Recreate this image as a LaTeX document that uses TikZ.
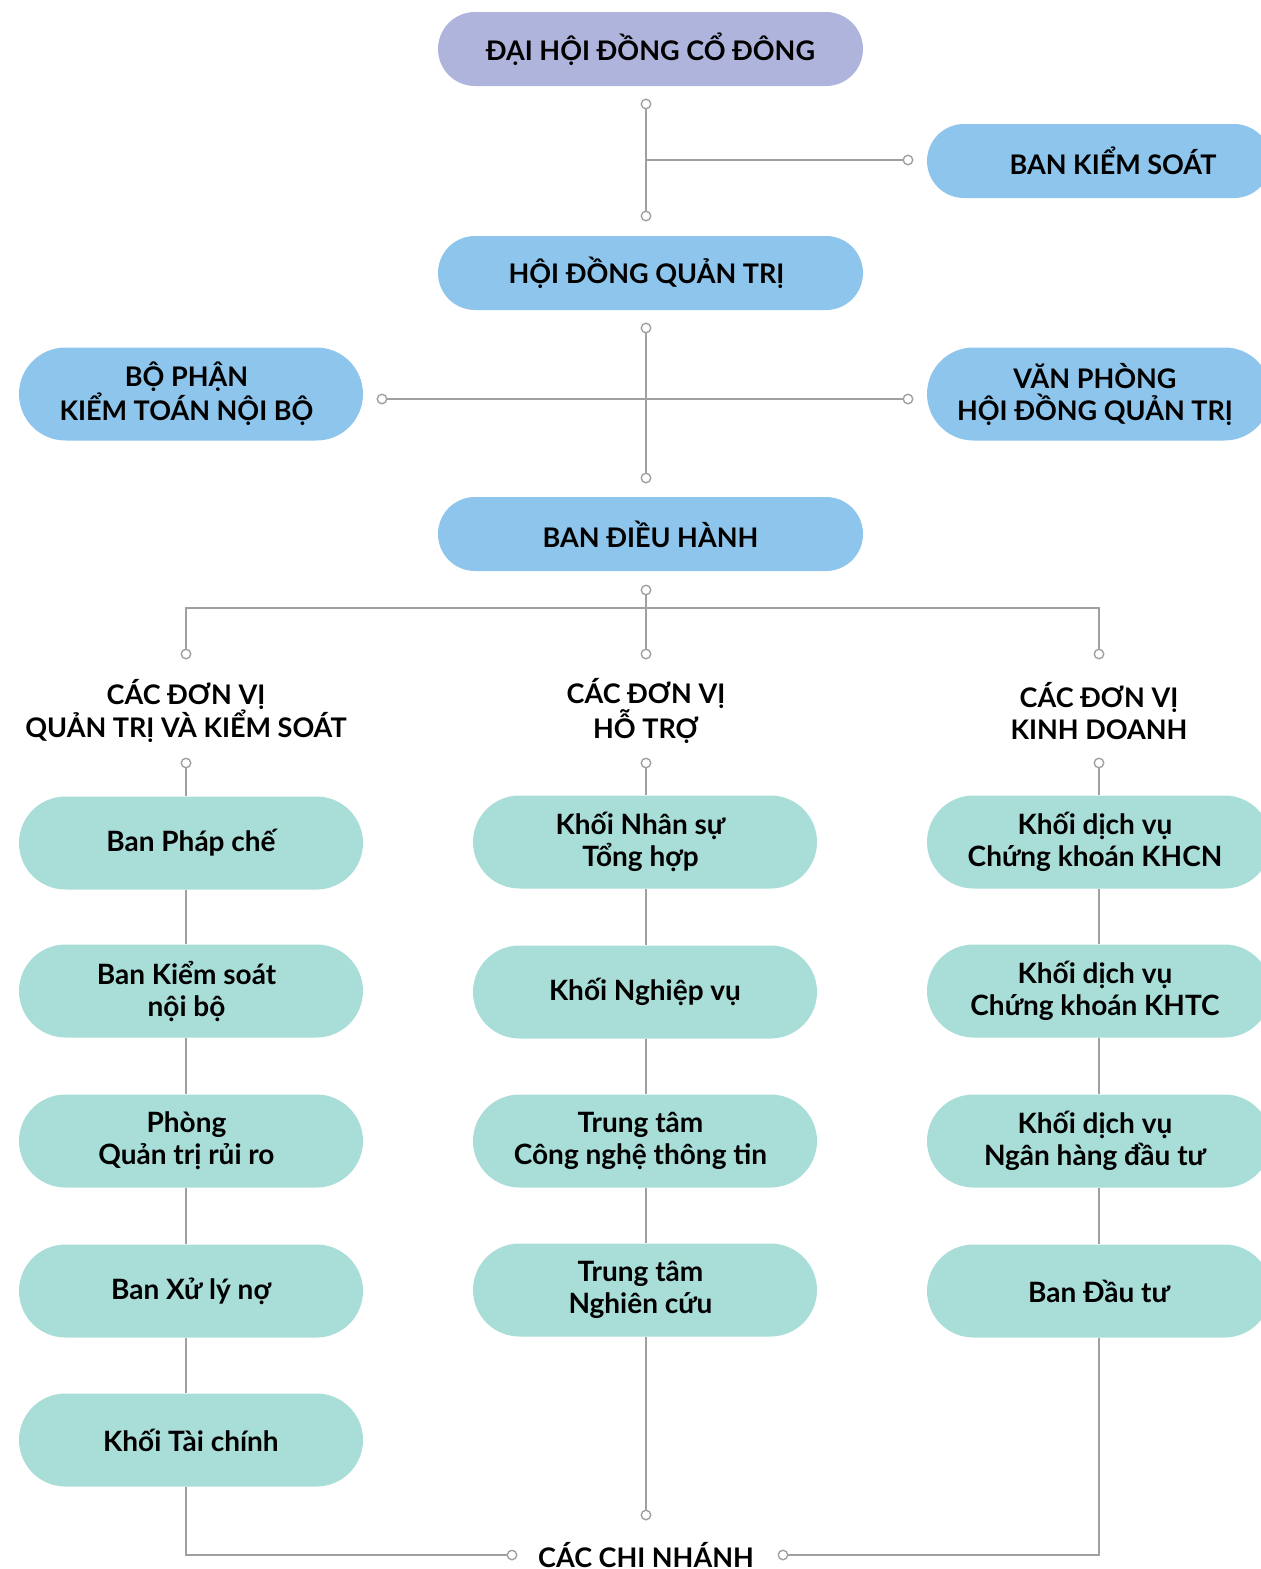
\documentclass[tikz,border=0pt]{standalone}
\usepackage{fontspec}
\setmainfont{Lato}
\definecolor{lav}{HTML}{AFB4DC}
\definecolor{sky}{HTML}{8EC5EC}
\definecolor{teal2}{HTML}{A8DDD8}
\definecolor{ln}{HTML}{A0A0A0}
\begin{document}
\begin{tikzpicture}[x=1pt,y=-1pt,
  pill/.style={draw=none,rounded corners=37pt,minimum height=74pt,inner sep=0pt,align=center,
     font=\bfseries\fontsize{27}{32}\selectfont},
  bigpill/.style={pill,rounded corners=46.5pt,minimum height=93pt,minimum width=344pt},
  topbox/.style={pill,fill=sky,minimum width=425pt},
  unit/.style={bigpill,fill=teal2,font=\bfseries\fontsize{28}{32}\selectfont},
  hdr/.style={align=center,font=\bfseries\fontsize{27}{32}\selectfont,inner sep=0pt},
  dot/.style={circle,draw=ln,fill=white,line width=1.4pt,minimum size=9.5pt,inner sep=0pt},
  conn/.style={draw=ln,line width=1.5pt}]
\useasboundingbox (0,0) rectangle (1261,1569);
\clip (0,0) rectangle (1261,1569);
% top level
\node[topbox,fill=lav] (dh) at (650.5,49) {ĐẠI HỘI ĐỒNG CỔ ĐÔNG};
\node[pill,fill=sky,minimum width=344pt] (bks) at (1099,161) {\hspace*{28pt}BAN KIỂM SOÁT};
\node[topbox] (hd) at (650.5,273) {\hspace*{-8pt}HỘI ĐỒNG QUẢN TRỊ};
\node[bigpill,fill=sky] (ktnb) at (191,394) {\hspace*{-9pt}BỘ PHẬN\\\hspace*{-9pt}KIỂM TOÁN NỘI BỘ};
\node[bigpill,fill=sky] (vp) at (1099,394) {\hspace*{-8pt}VĂN PHÒNG\\\hspace*{-8pt}HỘI ĐỒNG QUẢN TRỊ};
\node[topbox] (bdh) at (650.5,534) {BAN ĐIỀU HÀNH};
% dots
\node[dot] (a1) at (646,104) {};
\node[dot] (a2) at (646,216) {};
\node[dot] (a3) at (908,160) {};
\coordinate (a4) at (646,160);
\node[dot] (b1) at (646,328) {};
\node[dot] (b2) at (646,478) {};
\node[dot] (b3) at (382,399) {};
\node[dot] (b4) at (908,399) {};
\node[dot] (c0) at (646,590) {};
\node[dot] (c1) at (186,654) {};
\node[dot] (c2) at (646,654) {};
\node[dot] (c3) at (1099,654) {};
\coordinate (cl) at (186,608);
\coordinate (cr) at (1099,608);
\coordinate (cm) at (646,608);
\draw[conn] (a1) -- (a2);
\draw[conn] (a4) -- (a3);
\draw[conn] (b1) -- (b2);
\draw[conn] (b3) -- (b4);
\draw[conn] (c0) -- (cm);
\draw[conn] (c1) -- (cl) -- (cr) -- (c3);
\draw[conn] (cm) -- (c2);
% headers
\node[hdr] (h1) at (186,711) {CÁC ĐƠN VỊ\\QUẢN TRỊ VÀ KIỂM SOÁT};
\node[hdr] (h2) at (646,711) {CÁC ĐƠN VỊ\\HỖ TRỢ};
\node[hdr] (h3) at (1099,711) {CÁC ĐƠN VỊ\\KINH DOANH};
\node[dot] (e1) at (186,763) {};
\node[dot] (e2) at (646,763) {};
\node[dot] (e3) at (1099,763) {};
% column 1
\node[unit] (q1) at (191,843) {Ban Pháp chế};
\node[unit] (q2) at (191,991) {\hspace*{-9pt}Ban Kiểm soát\\\hspace*{-9pt}nội bộ};
\node[unit] (q3) at (191,1141) {\hspace*{-9pt}Phòng\\\hspace*{-9pt}Quản trị rủi ro};
\node[unit] (q4) at (191,1291) {Ban Xử lý nợ};
\node[unit] (q5) at (191,1440) {Khối Tài chính};
% column 2
\node[unit] (s1) at (645,842) {\hspace*{-9pt}Khối Nhân sự\\\hspace*{-9pt}Tổng hợp};
\node[unit] (s2) at (645,992) {Khối Nghiệp vụ};
\node[unit] (s3) at (645,1141) {\hspace*{-9pt}Trung tâm\\\hspace*{-9pt}Công nghệ thông tin};
\node[unit] (s4) at (645,1290) {\hspace*{-9pt}Trung tâm\\\hspace*{-9pt}Nghiên cứu};
% column 3
\node[unit] (k1) at (1099,842) {\hspace*{-8pt}Khối dịch vụ\\\hspace*{-8pt}Chứng khoán KHCN};
\node[unit] (k2) at (1099,991) {\hspace*{-8pt}Khối dịch vụ\\\hspace*{-8pt}Chứng khoán KHTC};
\node[unit] (k3) at (1099,1141) {\hspace*{-8pt}Khối dịch vụ\\\hspace*{-8pt}Ngân hàng đầu tư};
\node[unit] (k4) at (1099,1291) {Ban Đầu tư};
% column lines
\draw[conn] (e1) -- (e1 |- q1.north);
\draw[conn] (e2) -- (e2 |- s1.north);
\draw[conn] (e3) -- (e3 |- k1.north);
\draw[conn] (e1 |- q1.south) -- (e1 |- q2.north);
\draw[conn] (e1 |- q2.south) -- (e1 |- q3.north);
\draw[conn] (e1 |- q3.south) -- (e1 |- q4.north);
\draw[conn] (e1 |- q4.south) -- (e1 |- q5.north);
\draw[conn] (e2 |- s1.south) -- (e2 |- s2.north);
\draw[conn] (e2 |- s2.south) -- (e2 |- s3.north);
\draw[conn] (e2 |- s3.south) -- (e2 |- s4.north);
\draw[conn] (e3 |- k1.south) -- (e3 |- k2.north);
\draw[conn] (e3 |- k2.south) -- (e3 |- k3.north);
\draw[conn] (e3 |- k3.south) -- (e3 |- k4.north);
% bottom
\node[hdr] (cn) at (646,1555) {CÁC CHI NHÁNH};
\node[dot] (f1) at (512,1555) {};
\node[dot] (f2) at (783,1555) {};
\node[dot] (f3) at (646,1515) {};
\draw[conn] (e2 |- s4.south) -- (f3);
\draw[conn] (e1 |- q5.south) |- (f1);
\draw[conn] (f2) -| (e3 |- k4.south);
\end{tikzpicture}
\end{document}
